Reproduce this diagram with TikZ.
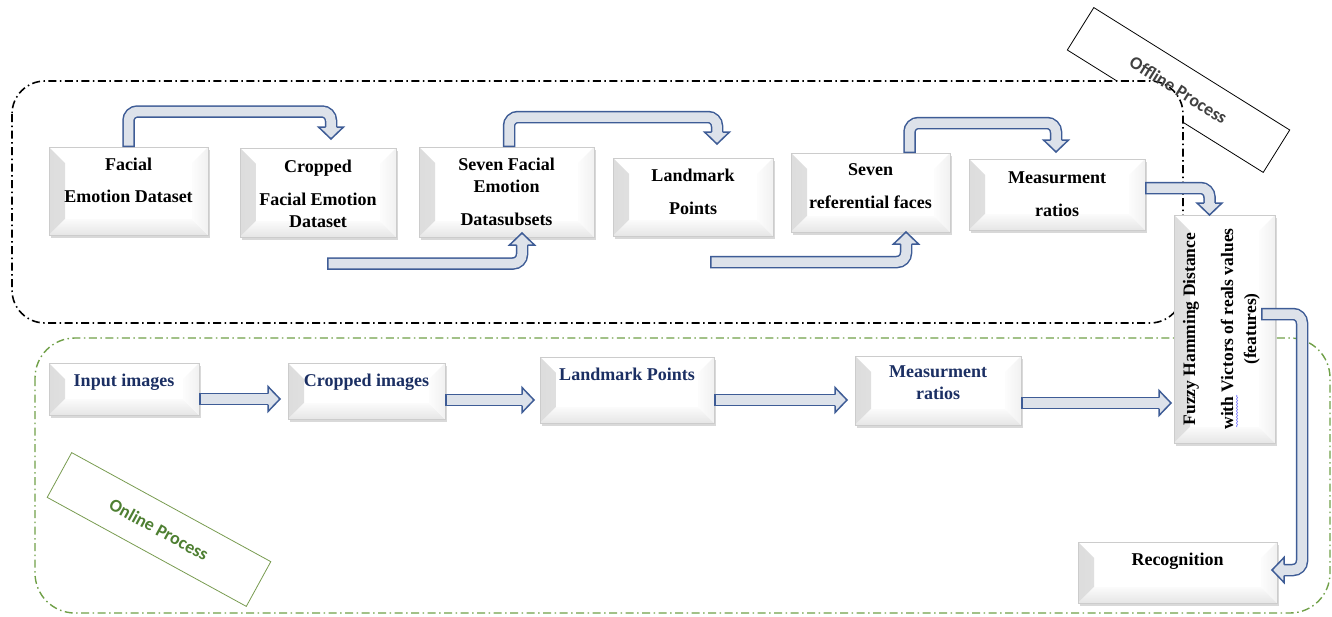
\documentclass[tikz,border=0pt]{standalone}
\usepackage{fontspec}
\setmainfont{Liberation Serif}
\newfontfamily\labfont{Carlito}
\usepackage{graphicx}
\usetikzlibrary{calc,shadows,decorations.pathmorphing}
\definecolor{arrblue}{RGB}{62,92,150}
\definecolor{arrfill}{RGB}{221,226,234}
\definecolor{navy}{HTML}{1B2F63}
\definecolor{ongreen}{RGB}{112,160,72}
\definecolor{onframe}{RGB}{120,155,80}
\definecolor{ontext}{RGB}{78,127,50}
\definecolor{offtext}{RGB}{64,64,64}
\newcommand\barrow[3]{%
  \draw[arrout] #1;
  \draw[arrin] #1;
  \begin{scope}[shift={#2},rotate=#3]
    \filldraw[arrhead] (0,5.5) -- (0,12.5) -- (12,0) -- (0,-12.5) -- (0,-5.5);
  \end{scope}}
\newcommand\bx[5]{\parbox[c][#2pt][t]{#1pt}{\centering\vspace*{#3pt}#4}}
\tikzset{
  arrout/.style={draw=arrblue, line width=12.5pt, rounded corners=9pt},
  arrin/.style={draw=arrfill, line width=9.5pt, rounded corners=9pt, shorten <=1.5pt},
  arrhead/.style={fill=arrfill, draw=arrblue, line width=1.5pt, line join=miter},
  box/.style={draw=gray!40, line width=0.5pt, fill=white, inner sep=0pt, outer sep=0pt,
    drop shadow={shadow xshift=1.5pt, shadow yshift=-2.5pt, opacity=0.3},
    path picture={
      \shade[left color=gray!27, right color=gray!3]
        (path picture bounding box.south west) -- (path picture bounding box.north west)
        -- ($(path picture bounding box.north west)+(16,16)$)
        -- ($(path picture bounding box.south west)+(16,-16)$) -- cycle;
      \shade[top color=gray!3, bottom color=gray!20]
        (path picture bounding box.south west) -- ($(path picture bounding box.south west)+(16,-16)$)
        -- ($(path picture bounding box.south east)+(-16,-16)$) -- (path picture bounding box.south east) -- cycle;
      \shade[left color=gray!2, right color=gray!11]
        (path picture bounding box.south east) -- (path picture bounding box.north east)
        -- ($(path picture bounding box.north east)+(-16,16)$)
        -- ($(path picture bounding box.south east)+(-16,-16)$) -- cycle;
    }},
  offbox/.style={box, text=black},
  onbox/.style={box, text=navy},
  ddash/.style={dash pattern=on 8pt off 3.5pt on 1.5pt off 3.5pt},
  labtxt/.style={font=\labfont\bfseries\fontsize{18}{22}\selectfont, inner sep=0pt},
}
\begin{document}
\begin{tikzpicture}[x=1pt, y=-1pt, font=\fontsize{18}{22}\selectfont\bfseries]
\useasboundingbox (0,0) rectangle (1332,616);

% offline label frame, then offline region (white filled)
\node[draw=black, line width=0.8pt, minimum width=231pt, minimum height=50pt, inner sep=0pt, rotate=-32] (offframe) at (1178.5,90) {};
\draw[black, line width=1.6pt, ddash, rounded corners=33pt, fill=white] (12,81) rectangle (1183,323);
\node[labtxt, text=offtext, rotate=-32] (offlab) at (1178.5,90) {Offline Process};

% online region
\draw[ongreen, line width=1.4pt, ddash, rounded corners=40pt] (35,338) rectangle (1330,613);
\node[draw=onframe, line width=0.8pt, minimum width=227pt, minimum height=51pt, inner sep=0pt, rotate=-28.7, labtxt, text=ontext] (onlab) at (159,529.5) {Online Process};

% offline nodes
\node[offbox] (n1) at (128.5,191) {\bx{159}{88}{11.5}{Facial\\[10pt]Emotion Dataset}{}};
\node[offbox] (n2) at (318,192.5) {\bx{156}{89}{12}{Cropped\\[11pt]Facial Emotion\\Dataset}{}};
\node[offbox] (n3) at (506.5,192) {\bx{175}{90}{11.5}{Seven Facial\\Emotion\\[11pt]Datasubsets}{}};
\node[offbox] (n4) at (693,197) {\bx{160}{78}{11}{Landmark\\[11pt]Points}{}};
\node[offbox] (n5) at (870.5,192.5) {\bx{159}{79}{11}{Seven\\[11pt]referential faces}{}};
\node[offbox] (n6) at (1057,194.5) {\bx{176}{71}{12.5}{Measurment\\[11pt]ratios}{}};

% fuzzy node
\node[offbox] (fz) at (1224.5,329) {\rotatebox{90}{\fontsize{17.5}{21}\selectfont\parbox[c][101pt][t]{228pt}{\centering\vspace*{9pt}Fuzzy Hamming Distance\\[17pt]with Victors of reals values\\[2pt](features)}}};

% online nodes
\node[onbox] (m1) at (124,389) {\bx{150}{52}{11.5}{Input images}{}};
\node[onbox] (m2) at (366.5,391) {\bx{157}{56}{11.5}{Cropped images}{}};
\node[onbox] (m3) at (627,390) {\bx{174}{66}{11.5}{Landmark Points}{}};
\node[onbox] (m4) at (938,390.5) {\bx{166}{69}{10}{Measurment\\ratios}{}};
\node[offbox] (rec) at (1177.5,572.5) {\bx{199}{61}{11}{Recognition}{}};

% spell-check underline under "with"
\draw[blue!55, line width=0.6pt, decorate, decoration={snake, amplitude=0.6pt, segment length=3pt}] (1237,427) -- (1237,395);

% offline arrows
\barrow{(n1.north) |- (331,111.5) -- (331,127)}{(331,127)}{-90}
\coordinate (s2) at (327,263.5);
\barrow{(s2) -| (522,245)}{(522,245)}{90}
\barrow{($(n3.north)+(2.5,0)$) |- (717,117) -- (717,132)}{(717,132)}{-90}
\coordinate (s4) at (710,262);
\barrow{(s4) -| (906,244)}{(906,244)}{90}
\barrow{($(n5.north)+(39,0)$) |- (1056,123) -- (1056,140)}{(1056,140)}{-90}
\barrow{($(n6.east)+(0,-6.5)$) -| (1209.5,203)}{(1209.5,203)}{-90}
\barrow{($(fz.east)+(-14,-15)$) -| (1302,570) -- (1284,570)}{(1284,570)}{180}

% online arrows
\barrow{($(m1.east)+(0,10)$) -- (268,399)}{(268,399)}{0}
\barrow{($(m2.east)+(0,9)$) -- (522,400)}{(522,400)}{0}
\barrow{($(m3.east)+(0,10)$) -- (835,400)}{(835,400)}{0}
\barrow{($(m4.east)+(0,12.5)$) -- (1159,403)}{(1159,403)}{0}
\end{tikzpicture}
\end{document}
